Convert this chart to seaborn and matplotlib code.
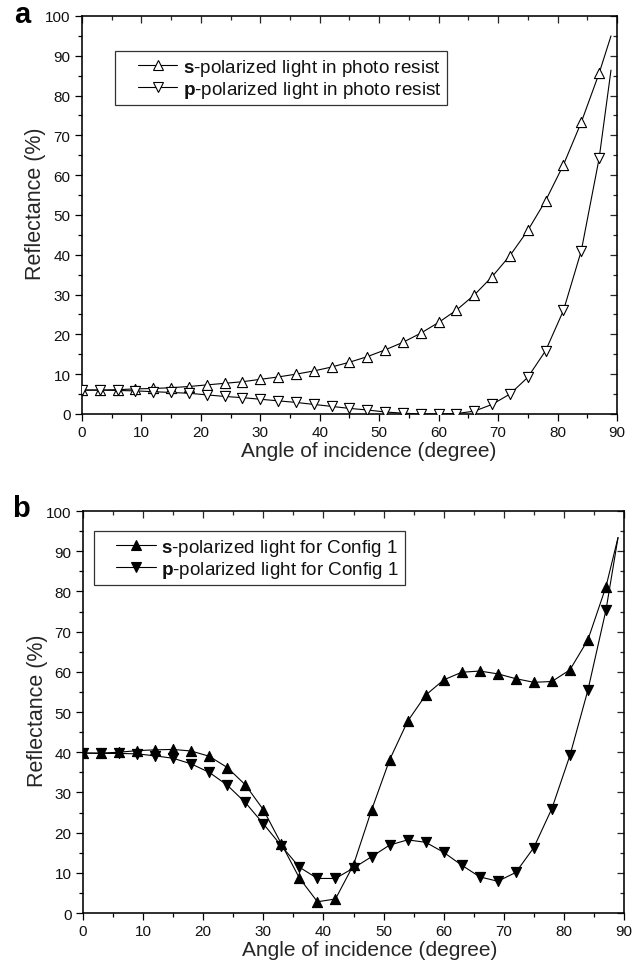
import numpy as np
import pandas as pd
import matplotlib
matplotlib.use("Agg")
import matplotlib.pyplot as plt
from matplotlib.lines import Line2D
from matplotlib.legend_handler import HandlerLine2D
from matplotlib.ticker import MultipleLocator
import seaborn as sns

# ---------------- data ----------------
angles = [0, 3, 6, 9, 12, 15, 18, 21, 24, 27, 30, 33, 36, 39, 42, 45, 48, 51,
          54, 57, 60, 63, 66, 69, 72, 75, 78, 81, 84, 87, 89]

s_resist = [6.0, 6.0, 6.1, 6.3, 6.4, 6.6, 6.9, 7.3, 7.7, 8.1, 8.7, 9.3, 10.0,
            10.8, 11.8, 13.0, 14.4, 16.1, 18.0, 20.3, 23.0, 26.1, 29.9, 34.5,
            39.8, 46.1, 53.6, 62.6, 73.3, 85.6, 95.0]
p_resist = [6.0, 6.0, 5.9, 5.8, 5.6, 5.4, 5.2, 4.8, 4.4, 4.1, 3.7, 3.3, 2.9,
            2.4, 1.9, 1.4, 1.0, 0.5, 0.2, 0.0, 0.0, 0.1, 0.7, 2.4, 5.0, 9.2,
            15.9, 26.0, 41.0, 64.2, 86.4]

s_config1 = [39.8, 39.8, 40.0, 40.4, 40.6, 40.7, 40.3, 39.0, 36.2, 31.9, 25.7,
             17.2, 8.7, 2.8, 3.5, 12.0, 25.6, 38.1, 47.7, 54.2, 58.0, 59.9,
             60.2, 59.5, 58.3, 57.4, 57.6, 60.5, 68.0, 81.2, 93.4]
p_config1 = [39.8, 39.7, 39.7, 39.6, 39.1, 38.5, 37.1, 35.0, 31.8, 27.5, 22.2,
             16.7, 11.4, 8.6, 8.6, 11.2, 14.0, 16.9, 18.2, 17.6, 15.1, 11.9,
             9.0, 7.9, 10.1, 16.3, 26.0, 39.2, 55.5, 75.4, 93.4]

labels_a = [r"$\mathbf{s}$-polarized light in photo resist",
            r"$\mathbf{p}$-polarized light in photo resist"]
labels_b = [r"$\mathbf{s}$-polarized light for Config 1",
            r"$\mathbf{p}$-polarized light for Config 1"]
xlabel = "Angle of incidence (degree)"
ylabel = "Reflectance (%)"

# ---------------- style ----------------
sns.set_theme(style="ticks")
plt.rcParams["font.family"] = ["Liberation Sans", "DejaVu Sans"]
plt.rcParams["mathtext.fontset"] = "custom"
plt.rcParams["mathtext.bf"] = "Liberation Sans:bold"
plt.rcParams["mathtext.rm"] = "Liberation Sans"
plt.rcParams["text.color"] = "#111111"

fig = plt.figure(figsize=(6.38, 9.70), dpi=100)
ax_a = fig.add_axes([0.1285, 0.5722, 0.8385, 0.4103])
ax_b = fig.add_axes([0.1301, 0.0577, 0.8480, 0.4144])

MS = 7.3
LW = 0.8
TW = 0.9
MAJ = 5.2
MIN = 3.0
LEG_FS = 13.6


def draw_panel(ax, s_vals, p_vals, labels, filled, leg_anchor, letter,
               letter_xy, xlab_x, ylab_y):
    df = pd.DataFrame({"angle": angles, "s": s_vals, "p": p_vals})
    face = "black" if filled else "white"
    for col, mk in (("s", "^"), ("p", "v")):
        sns.lineplot(data=df, x="angle", y=col, ax=ax, color="black",
                     linewidth=LW, zorder=2)
        sns.scatterplot(data=df.iloc[:-1], x="angle", y=col, ax=ax,
                        marker=mk, s=MS ** 2, facecolor=face,
                        edgecolor="black", linewidth=0.8, zorder=3)
    ax.set_xlim(0, 90)
    ax.set_ylim(0, 100)
    ax.xaxis.set_major_locator(MultipleLocator(10))
    ax.xaxis.set_minor_locator(MultipleLocator(5))
    ax.yaxis.set_major_locator(MultipleLocator(10))
    ax.yaxis.set_minor_locator(MultipleLocator(5))
    ax.tick_params(axis="both", which="major", direction="out", length=MAJ,
                   width=TW, labelsize=11, colors="black",
                   labelcolor="#111111", pad=3)
    ax.tick_params(axis="both", which="minor", direction="out", length=MIN,
                   width=TW, colors="black")
    for side in ("top", "right"):
        ax.spines[side].set_visible(True)
    for sp in ax.spines.values():
        sp.set_linewidth(1.15)
        sp.set_color("black")
    # mirrored inward ticks on top / right
    secx = ax.secondary_xaxis("top")
    secx.xaxis.set_major_locator(MultipleLocator(10))
    secx.xaxis.set_minor_locator(MultipleLocator(5))
    secx.tick_params(which="major", direction="in", length=MAJ, width=TW,
                     labeltop=False)
    secx.tick_params(which="minor", direction="in", length=MIN, width=TW)
    secx.spines["top"].set_visible(False)
    secy = ax.secondary_yaxis("right")
    secy.yaxis.set_major_locator(MultipleLocator(10))
    secy.yaxis.set_minor_locator(MultipleLocator(5))
    secy.tick_params(which="major", direction="in", length=MAJ, width=TW,
                     labelright=False)
    secy.tick_params(which="minor", direction="in", length=MIN, width=TW)
    secy.spines["right"].set_visible(False)

    ax.set_xlabel(xlabel, fontsize=15, labelpad=1, x=xlab_x)
    ax.set_ylabel(ylabel, fontsize=15.5, labelpad=-1, y=ylab_y)

    handles = [Line2D([], [], color="black", lw=LW, marker=mk, ms=MS,
                      mfc=face, mec="black", mew=0.8)
               for mk in ("^", "v")]
    hmap = {h: HandlerLine2D(xpad=0.9) for h in handles}
    leg = ax.legend(handles, labels, loc="upper left",
                    bbox_to_anchor=leg_anchor, borderaxespad=0,
                    fontsize=LEG_FS, frameon=True, fancybox=False,
                    handlelength=3.0, handletextpad=0.27,
                    labelspacing=0.05, borderpad=0.3, handler_map=hmap)
    leg.get_frame().set_edgecolor("black")
    leg.get_frame().set_linewidth(0.9)
    ax.text(letter_xy[0], letter_xy[1], letter, transform=ax.transAxes,
            fontsize=21, fontweight="bold", ha="left", va="baseline",
            color="black")


draw_panel(ax_a, s_resist, p_resist, labels_a, False, (0.062, 0.912), "a",
           (-0.127, 0.985), 0.535, 0.53)
draw_panel(ax_b, s_config1, p_config1, labels_b, True, (0.020, 0.950), "b",
           (-0.131, 0.988), 0.530, 0.505)

fig.savefig("out.png", dpi=100)
